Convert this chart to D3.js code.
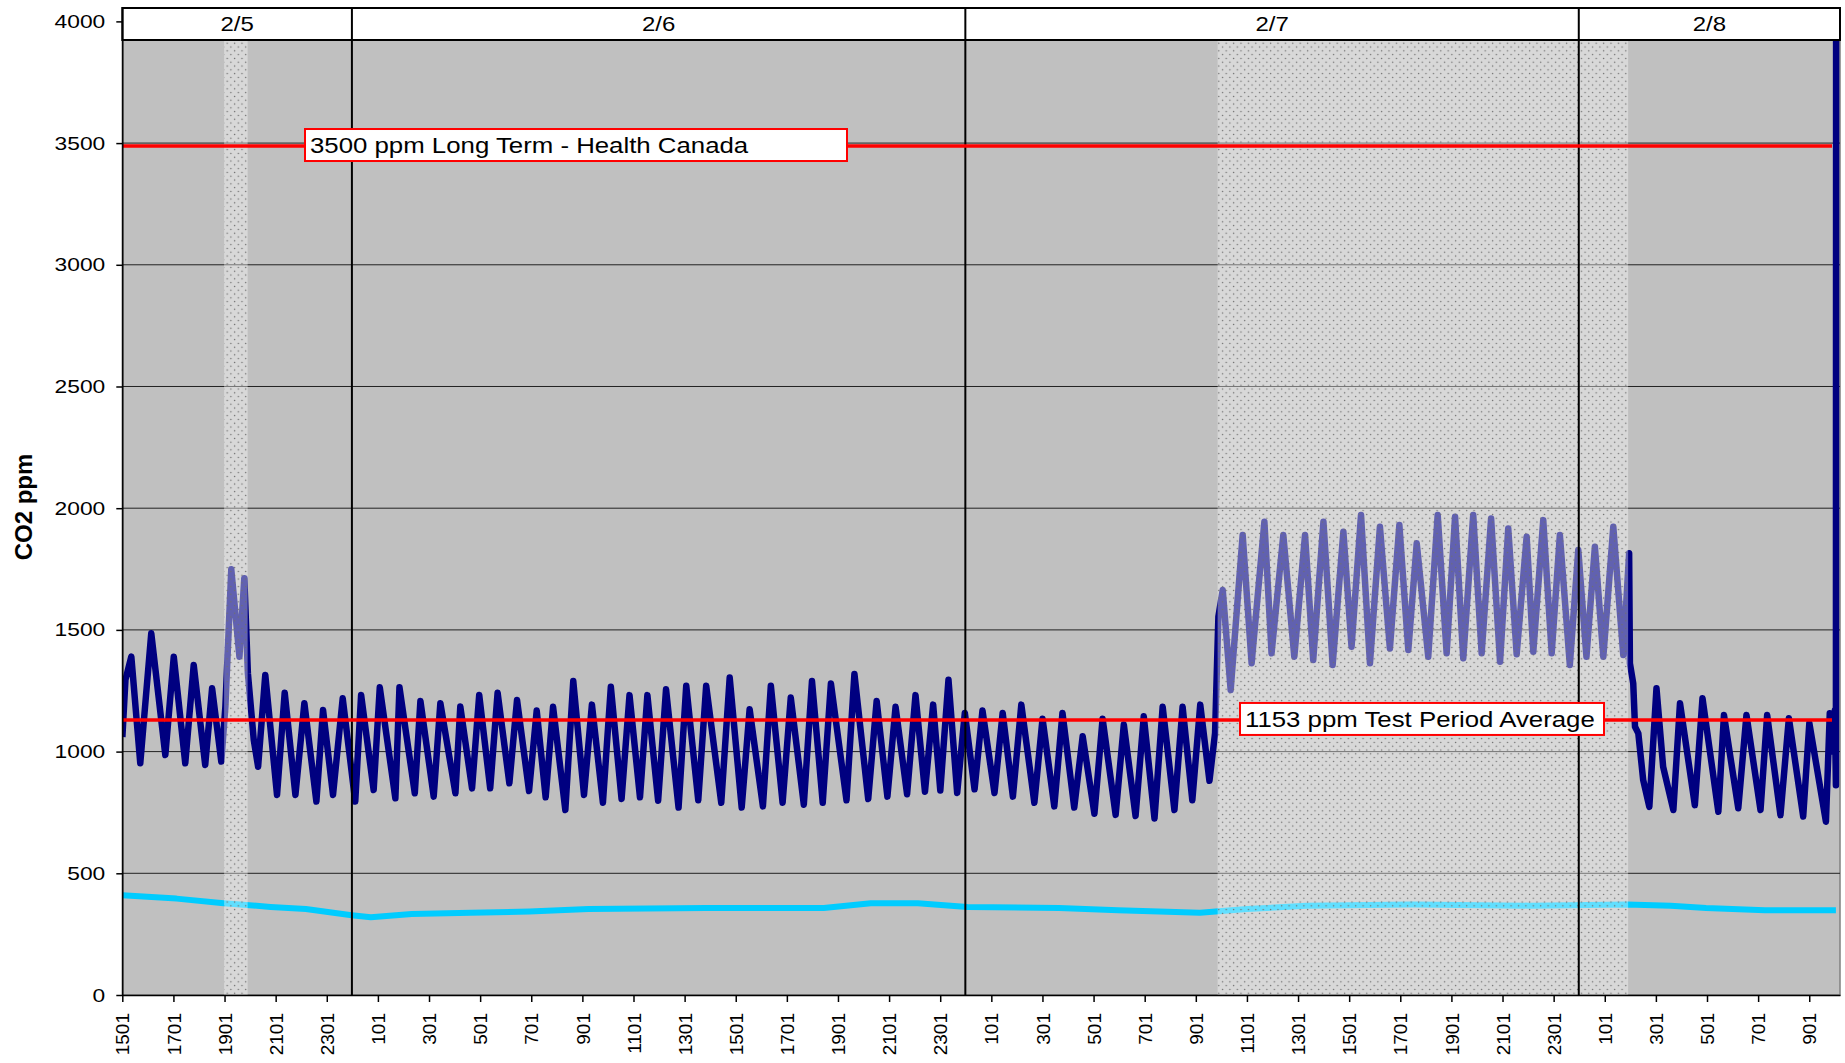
<!DOCTYPE html>
<html>
<head>
<meta charset="utf-8">
<title>CO2 ppm</title>
<script src="https://d3js.org/d3.v7.min.js"></script>
<style>
    body { margin: 0; background: #fff; }
    text { font-family: "Liberation Sans", Arial, sans-serif; fill: #000; }
</style>
</head>
<body>
<div id="chart"></div>
<script>
    // time is in hours counted from 2/5 00:00
    var co2Hours = [
        15.02, 15.14, 15.37, 15.72, 16.15, 16.70, 17.03, 17.48, 17.81, 18.26, 18.53, 18.89,
        19.05, 19.28, 19.60, 19.79, 19.93, 20.16, 20.33, 20.61, 21.07, 21.37, 21.79, 22.14,
        22.61, 22.87, 23.26, 23.64, 24.13, 24.36, 24.85, 25.09, 25.70, 25.86, 26.46, 26.68,
        27.20, 27.46, 28.05, 28.24, 28.70, 28.98, 29.41, 29.70, 30.16, 30.46,
        30.93, 31.23, 31.58, 31.87, 32.35, 32.66, 33.08, 33.39, 33.82, 34.13, 34.55, 34.86,
        35.27, 35.56, 35.98, 36.29, 36.78, 37.08, 37.55, 37.86, 38.45, 38.78, 39.25, 39.56,
        40.08, 40.39, 40.85, 41.17, 41.68, 42.00, 42.42, 42.74, 43.35, 43.66, 44.20, 44.53,
        44.95, 45.27, 45.72, 46.05, 46.42, 46.74, 47.02, 47.34, 47.68, 47.98, 48.36, 48.67,
        49.14, 49.46, 49.86, 50.19, 50.70, 51.02, 51.48, 51.80, 52.26, 52.59, 53.05, 53.37,
        53.88, 54.20, 54.66, 54.98, 55.40, 55.72, 56.18, 56.50, 56.88, 57.19, 57.55,
        57.77, 57.90, 58.07, 58.38, 58.85, 59.20, 59.70, 59.98, 60.44, 60.87, 61.29, 61.61,
        62.01, 62.37, 62.79, 63.11, 63.48, 63.83, 64.22, 64.61, 64.98, 65.33, 65.66, 66.11,
        66.48, 66.83, 67.16, 67.48, 67.87, 68.20, 68.57, 68.92, 69.24, 69.57, 69.96, 70.22,
        70.61, 70.94, 71.26, 71.65, 71.98, 72.30, 72.63, 72.96, 73.35, 73.74, 73.97, 74.00,
        74.13, 74.20, 74.33, 74.52, 74.76, 75.04, 75.30, 75.70, 75.96, 76.54, 76.84, 77.46,
        77.68, 78.24, 78.56, 79.11, 79.37, 79.89, 80.22, 80.78, 81.02, 81.67, 81.82, 81.93,
        82.02, 82.06, 82.07
    ];
    var co2Ppm = [
        1060, 1295, 1390, 952, 1486, 986, 1390, 952, 1356, 945, 1260, 959,
        1185, 1749, 1390, 1712, 1322, 1048, 938, 1315, 822, 1242, 822, 1199,
        795, 1171, 822, 1219, 795, 1233, 842, 1264, 808, 1264, 829, 1208,
        815, 1199, 829, 1185, 849, 1233, 849, 1242, 870, 1212,
        838, 1169, 812, 1184, 760, 1290, 822, 1193, 790, 1266, 805, 1232,
        812, 1232, 798, 1256, 770, 1271, 800, 1271, 790, 1304, 770, 1174,
        775, 1271, 790, 1222, 782, 1290, 790, 1280, 800, 1319, 805, 1208,
        815, 1184, 825, 1232, 835, 1193, 840, 1295, 830, 1159, 845, 1169,
        830, 1159, 815, 1193, 790, 1135, 775, 1159, 770, 1063, 745, 1135,
        740, 1111, 735, 1145, 725, 1184, 760, 1184, 800, 1193, 880,
        1076, 1554, 1664, 1253, 1890, 1363, 1944, 1404, 1890, 1390, 1890, 1376,
        1944, 1356, 1903, 1431, 1972, 1363, 1924, 1424, 1931, 1417, 1856, 1390,
        1972, 1404, 1965, 1383, 1972, 1404, 1958, 1369, 1917, 1400, 1883, 1410,
        1951, 1404, 1890, 1356, 1828, 1390, 1842, 1390, 1924, 1397, 1815, 1363,
        1281, 1102, 1075, 883, 773, 1260, 938, 760, 1199, 780, 1219, 753,
        1150, 767, 1150, 760, 1150, 739, 1137, 733, 1117, 712, 1158, 1000,
        1170, 862, 5000
    ];
    var outHours = [
        15.02, 17.14, 18.98, 20.82, 22.2, 23.99, 24.74, 26.34, 28.65, 30.95, 33.25, 37.85,
        42.46, 44.3, 46.14, 48.08, 51.67, 53.97, 57.18, 59.02, 61.33, 65.48, 70.08, 73.9,
        75.6, 76.98, 79.28, 82.06
    ];
    var outPpm = [
        410, 396, 377, 362, 353, 328, 319, 333, 338, 343, 353, 357,
        357, 377, 377, 362, 357, 348, 338, 353, 367, 372, 367, 372,
        367, 357, 348, 348
    ];

    var dayNames = ["2/5", "2/6", "2/7", "2/8"];
    var dayBreaks = [24, 48, 72];
    var bandStart = [19.0, 57.87];
    var bandEnd = [19.92, 73.93];
    var refPpm = [3488, 1130];
    var refText = ["3500 ppm Long Term - Health Canada", "1153 ppm Test Period Average"];
    var yTicks = [0, 500, 1000, 1500, 2000, 2500, 3000, 3500, 4000];
    var xStart = 15 + 1 / 60;
    var xEnd = 82.22;
    var xTicks = d3.range(xStart, 81.5, 2);

    var width = 1845, height = 1063;
    var pLeft = 122.3, pRight = 1840, pTop = 8, pHead = 40, pBottom = 995;

    var svg = d3.select("#chart").append("svg")
        .attr("width", width)
        .attr("height", height);

    var x = d3.scaleLinear().domain([xStart, xEnd]).range([pLeft, pRight]);
    var y = d3.scaleLinear().domain([0, 4055]).range([pBottom, pTop]);

    var defs = svg.append("defs");
    defs.append("clipPath").attr("id", "plotClip")
        .append("rect")
        .attr("x", pLeft).attr("y", pTop)
        .attr("width", pRight - pLeft).attr("height", pBottom - pTop);
    var pat = defs.append("pattern")
        .attr("id", "dots")
        .attr("patternUnits", "userSpaceOnUse")
        .attr("width", 7.4).attr("height", 7.6);
    pat.append("rect").attr("width", 7.4).attr("height", 7.6)
        .attr("fill", "#fff").attr("fill-opacity", 0.38);
    pat.append("circle").attr("cx", 1.5).attr("cy", 1.5).attr("r", 0.75).attr("fill", "#6e6e6e");
    pat.append("circle").attr("cx", 5.2).attr("cy", 5.3).attr("r", 0.75).attr("fill", "#6e6e6e");

    // plot background
    svg.append("rect")
        .attr("x", pLeft).attr("y", pTop)
        .attr("width", pRight - pLeft).attr("height", pBottom - pTop)
        .attr("fill", "#c0c0c0")
        .attr("stroke", "#808080").attr("stroke-width", 1.5);

    // horizontal grid
    svg.append("g").selectAll("line")
        .data(yTicks.filter(function (d) { return d > 0 && d < 4000; }))
        .enter().append("line")
        .attr("x1", pLeft).attr("x2", pRight)
        .attr("y1", function (d) { return y(d); })
        .attr("y2", function (d) { return y(d); })
        .attr("stroke", "#222").attr("stroke-width", 1);

    var plot = svg.append("g").attr("clip-path", "url(#plotClip)");

    var line = d3.line()
        .x(function (d) { return x(d[0]); })
        .y(function (d) { return y(d[1]); });

    plot.append("path")
        .datum(d3.zip(outHours, outPpm))
        .attr("d", line)
        .attr("fill", "none")
        .attr("stroke", "#00ccff")
        .attr("stroke-width", 6)
        .attr("stroke-linejoin", "round");

    plot.append("path")
        .datum(d3.zip(co2Hours, co2Ppm))
        .attr("d", line)
        .attr("fill", "none")
        .attr("stroke", "#000080")
        .attr("stroke-width", 6.5)
        .attr("stroke-linejoin", "round");

    // dotted test bands over the data
    plot.selectAll(".band")
        .data(d3.zip(bandStart, bandEnd))
        .enter().append("rect")
        .attr("class", "band")
        .attr("x", function (d) { return x(d[0]); })
        .attr("y", pHead)
        .attr("width", function (d) { return x(d[1]) - x(d[0]); })
        .attr("height", pBottom - pHead)
        .attr("fill", "url(#dots)");

    // day separators
    svg.append("g").selectAll("line")
        .data(dayBreaks)
        .enter().append("line")
        .attr("x1", function (d) { return x(d); })
        .attr("x2", function (d) { return x(d); })
        .attr("y1", pTop).attr("y2", pBottom)
        .attr("stroke", "#000").attr("stroke-width", 2);

    // reference lines
    svg.append("g").selectAll("line")
        .data(refPpm)
        .enter().append("line")
        .attr("x1", pLeft).attr("x2", 1832)
        .attr("y1", function (d) { return y(d); })
        .attr("y2", function (d) { return y(d); })
        .attr("stroke", "#ff0000").attr("stroke-width", 3.5);

    var boxX = [305, 1240], boxW = [542, 364];
    var labels = svg.append("g").selectAll("g")
        .data(refPpm)
        .enter().append("g")
        .attr("transform", function (d, i) {
            return "translate(" + boxX[i] + "," + (y(d) - 17) + ")";
        });
    labels.append("rect")
        .attr("width", function (d, i) { return boxW[i]; })
        .attr("height", 32)
        .attr("fill", "#fff")
        .attr("stroke", "#ff0000").attr("stroke-width", 2);
    labels.append("text")
        .attr("transform", "translate(5,24) scale(1.2,1)")
        .attr("font-size", "21.5px")
        .text(function (d, i) { return refText[i]; });

    // header with day names
    var dayEdges = [xStart].concat(dayBreaks, [xEnd]);
    svg.append("rect")
        .attr("x", pLeft).attr("y", pTop)
        .attr("width", pRight - pLeft).attr("height", pHead - pTop)
        .attr("fill", "#fff")
        .attr("stroke", "#000").attr("stroke-width", 2);
    svg.append("g").selectAll("line")
        .data(dayBreaks)
        .enter().append("line")
        .attr("x1", function (d) { return x(d); })
        .attr("x2", function (d) { return x(d); })
        .attr("y1", pTop).attr("y2", pHead)
        .attr("stroke", "#000").attr("stroke-width", 2);
    svg.append("g").selectAll("text")
        .data(dayNames)
        .enter().append("text")
        .attr("transform", function (d, i) {
            var cx = (x(dayEdges[i]) + x(dayEdges[i + 1])) / 2;
            return "translate(" + cx + ",31) scale(1.2,1)";
        })
        .attr("text-anchor", "middle")
        .attr("font-size", "20px")
        .text(function (d) { return d; });

    // axes
    var yAxis = svg.append("g")
        .attr("transform", "translate(" + pLeft + ",0)")
        .call(d3.axisLeft(y).tickValues(yTicks).tickSize(6).tickSizeOuter(0)
            .tickFormat(d3.format("d")));
    yAxis.select(".domain").attr("stroke", "#000").attr("stroke-width", 1.5);
    yAxis.selectAll(".tick line").attr("stroke", "#000").attr("stroke-width", 1.5);
    yAxis.selectAll(".tick text")
        .attr("x", -14.2)
        .attr("font-size", "19px")
        .attr("font-family", "Liberation Sans, Arial, sans-serif")
        .attr("transform", "scale(1.2,1)");

    var xAxis = svg.append("g")
        .attr("transform", "translate(0," + pBottom + ")")
        .call(d3.axisBottom(x).tickValues(xTicks).tickSize(7).tickSizeOuter(0)
            .tickFormat(function (d) {
                var h = Math.floor(d + 0.001) % 24;
                return String(h * 100 + 1);
            }));
    xAxis.select(".domain").attr("stroke", "#000").attr("stroke-width", 1.5);
    xAxis.selectAll(".tick line").attr("stroke", "#000").attr("stroke-width", 1.5);
    xAxis.selectAll(".tick text")
        .attr("transform", "rotate(-90)")
        .attr("text-anchor", "end")
        .attr("x", -18).attr("y", 0).attr("dy", "0.35em")
        .attr("font-size", "19px")
        .attr("font-family", "Liberation Sans, Arial, sans-serif");

    svg.append("text")
        .attr("transform", "translate(32,507) rotate(-90)")
        .attr("text-anchor", "middle")
        .attr("font-size", "24px")
        .attr("font-weight", "bold")
        .text("CO2 ppm");
</script>
</body>
</html>
